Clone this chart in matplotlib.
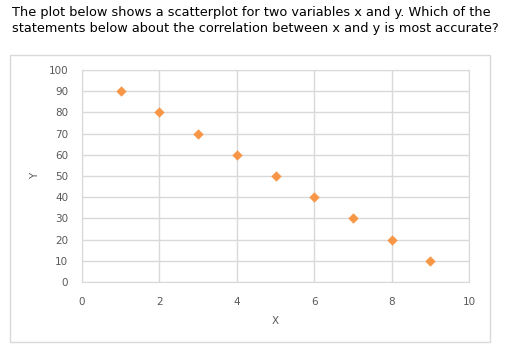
import matplotlib.pyplot as plt
from matplotlib.patches import Rectangle

x = [1, 2, 3, 4, 5, 6, 7, 8, 9]
y = [90, 80, 70, 60, 50, 40, 30, 20, 10]
xticks = [0, 2, 4, 6, 8, 10]
yticks = [0, 10, 20, 30, 40, 50, 60, 70, 80, 90, 100]

title = ("The plot below shows a scatterplot for two variables x and y. Which of the\n"
         "statements below about the correlation between x and y is most accurate?")

W, H = 506, 352
fig = plt.figure(figsize=(W / 100, H / 100), dpi=100)

fig.text(12 / W, 1 - 6 / H, title, ha="left", va="top", fontsize=9.3,
         color="black", linespacing=1.3, family="DejaVu Sans")

# chart frame
fig.patches.append(Rectangle((10 / W, 1 - 342 / H), 480 / W, 287 / H,
                             transform=fig.transFigure, fill=False,
                             edgecolor="#D9D9D9", lw=1))

ax = fig.add_axes([82 / W, 1 - 282 / H, (469 - 82) / W, (282 - 70) / H])
ax.scatter(x, y, marker="D", s=28, color="#F79646", zorder=3, linewidths=0)

ax.set_xlim(0, 10)
ax.set_ylim(0, 100)
ax.set_xticks(xticks)
ax.set_yticks(yticks)
ax.grid(True, color="#D9D9D9", lw=1)
for s in ax.spines.values():
    s.set_color("#D9D9D9")
ax.tick_params(length=0, labelsize=7.5, labelcolor="#595959")
ax.tick_params(axis="x", pad=11)
ax.tick_params(axis="y", pad=10)
ax.set_xlabel("X", fontsize=7.5, color="#595959", labelpad=6)
ax.set_ylabel("Y", fontsize=7.5, color="#595959", labelpad=6)

fig.savefig("out.png", dpi=100)
